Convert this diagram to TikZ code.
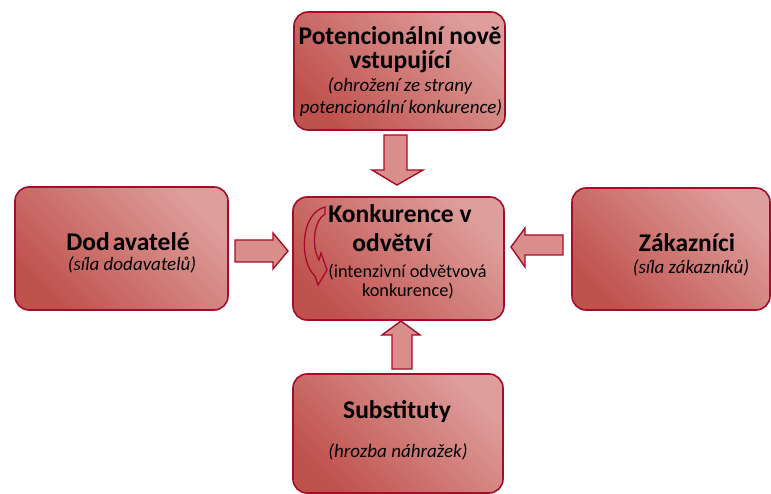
\documentclass[tikz,border=0pt]{standalone}
\usepackage{fontspec}
\setmainfont{Carlito}
\usetikzlibrary{calc}
\definecolor{rim}{RGB}{165,12,42}
\definecolor{boxdark}{RGB}{192,82,78}
\definecolor{boxlight}{RGB}{222,158,155}
\definecolor{arrowfill}{RGB}{218,142,140}
\begin{document}
\begin{tikzpicture}[x=1pt,y=-1pt,
  forcebox/.style={draw=rim, line width=1.6pt, rounded corners=14pt,
    top color=boxlight, bottom color=boxdark, shading angle=-45, inner sep=0pt},
  title/.style={font=\bfseries\fontsize{25.5}{30}\selectfont, inner sep=0pt},
  note/.style={font=\itshape\fontsize{19}{23}\selectfont, inner sep=0pt},
  plainnote/.style={font=\fontsize{18.3}{22}\selectfont, inner sep=0pt},
  blockarrow/.style={draw=rim, line width=1.4pt, fill=arrowfill, line join=miter}]
  \useasboundingbox (0,0) rectangle (771,494);

  % the five forces
  \node[forcebox, minimum width=211, minimum height=118] (entrants) at (399.5,71) {};
  \node[forcebox, minimum width=211, minimum height=123] (rivalry) at (398.5,258.5) {};
  \node[forcebox, minimum width=213, minimum height=123] (suppliers) at (121.5,248.5) {};
  \node[forcebox, minimum width=198, minimum height=122] (buyers) at (671,249) {};
  \node[forcebox, minimum width=210, minimum height=119] (substitutes) at (398,433.5) {};

  % block arrows pointing at the industry rivalry
  \draw[blockarrow, shift={($(entrants.south)!0.5!(rivalry.north)$)}]
    (-15,-28.5) -- (8,-28.5) -- (8,6.5) -- (24,6.5) -- (-2,21.5) -- (-27,6.5) -- (-15,6.5) -- cycle;
  \draw[blockarrow, shift={($(suppliers.east)!0.5!(rivalry.west)$)}]
    (-25.5,-13.5) -- (12.5,-13.5) -- (12.5,-20.5) -- (27.5,-2.5) -- (12.5,15.5) -- (12.5,8.5) -- (-25.5,8.5) -- cycle;
  \draw[blockarrow, shift={($(buyers.west)!0.5!(rivalry.east)$)}]
    (25,-18.75) -- (-13,-18.75) -- (-13,-25.75) -- (-27,-6.75) -- (-13,13.25) -- (-13,1.25) -- (25,1.25) -- cycle;
  \draw[blockarrow, shift={($(substitutes.north)!0.5!(rivalry.south)$)}]
    (-6.25,22) -- (-6.25,-12) -- (-16.25,-12) -- (2.75,-26) -- (21.75,-12) -- (13.75,-12) -- (13.75,22) -- cycle;

  % curved arrow inside the rivalry box
  \draw[rim, line width=1.3pt, line join=miter]
    (325,207) -- (325,214) .. controls (314,220) and (311,246) .. (319,260)
    -- (321,253) -- (327,270) -- (318,285) -- (315,276)
    .. controls (299,262) and (300,213) .. (325,207) -- cycle;

  % texts
  \node[title] (entrantsA) at (400,36) {Potencionální nově};
  \node[title] (entrantsB) at (400,62) {vstupující};
  \node[note] (entrantsC) at (400,86) {(ohrožení ze strany};
  \node[note] (entrantsD) at (401,108) {potencionální konkurence)};

  \node[title] (rivalryA) at (400,214) {Konkurence v};
  \node[title] (rivalryB) at (392,243) {odvětví};
  \node[plainnote] (rivalryC) at (407.5,272) {(intenzivní odvětvová};
  \node[plainnote] (rivalryD) at (408,291) {konkurence)};

  \node[title] (suppliersA) at (128,242) {Dod\hspace{3pt}avatelé};
  \node[note] (suppliersB) at (132,265) {(síla dodavatelů)};

  \node[title] (buyersA) at (687,243) {Zákazníci};
  \node[note] (buyersB) at (691,268) {(síla zákazníků)};

  \node[title] (substitutesA) at (397,412) {Substituty};
  \node[note] (substitutesB) at (398,452) {(hrozba náhražek)};
\end{tikzpicture}
\end{document}
